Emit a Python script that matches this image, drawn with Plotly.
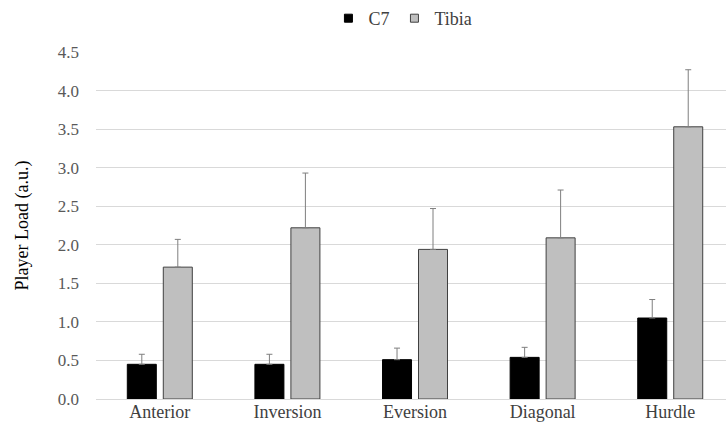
import plotly.graph_objects as go

categories = ["Anterior", "Inversion", "Eversion", "Diagonal", "Hurdle"]
c7_mean = [0.45, 0.45, 0.51, 0.54, 1.05]
c7_sd = [0.13, 0.13, 0.15, 0.13, 0.24]
tibia_mean = [1.71, 2.22, 1.94, 2.09, 3.53]
tibia_sd = [0.36, 0.71, 0.53, 0.62, 0.74]
y_ticks = [0.0, 0.5, 1.0, 1.5, 2.0, 2.5, 3.0, 3.5, 4.0, 4.5]

FONT = "Liberation Serif"
C7_COLOR = "#000000"
TIBIA_COLOR = "#bfbfbf"

fig = go.Figure()
fig.add_trace(go.Bar(
    name="C7", x=categories, y=c7_mean, showlegend=False, legendgroup="c7",
    marker=dict(color=C7_COLOR, line=dict(color="#000000", width=1)),
    error_y=dict(type="data", array=c7_sd, arrayminus=[0]*len(c7_sd), symmetric=False,
                 color="#7f7f7f", thickness=1, width=3),
))
fig.add_trace(go.Bar(
    name="Tibia", x=categories, y=tibia_mean, showlegend=False, legendgroup="tibia",
    marker=dict(color=TIBIA_COLOR, line=dict(color="#404040", width=1)),
    error_y=dict(type="data", array=tibia_sd, arrayminus=[0]*len(tibia_sd), symmetric=False,
                 color="#7f7f7f", thickness=1, width=3),
))
# legend entries with small square swatches
fig.add_trace(go.Scatter(name="C7", x=[None], y=[None], mode="markers", legendgroup="c7",
                         marker=dict(symbol="square", size=8, color=C7_COLOR,
                                     line=dict(color="#000000", width=1))))
fig.add_trace(go.Scatter(name="Tibia", x=[None], y=[None], mode="markers", legendgroup="tibia",
                         marker=dict(symbol="square", size=8, color=TIBIA_COLOR,
                                     line=dict(color="#404040", width=1))))

fig.update_layout(
    width=726, height=432,
    margin=dict(l=96, r=0, t=52, b=33),
    paper_bgcolor="white", plot_bgcolor="white",
    barmode="group", bargap=0.436, bargroupgap=0.194,
    font=dict(family=FONT, size=16, color="#595959"),
    legend=dict(orientation="h", x=0.555, xref="container", xanchor="center",
                y=1.0, yanchor="top", yref="container",
                font=dict(family=FONT, size=18, color="#404040"),
                itemwidth=30, traceorder="normal", tracegroupgap=0),
    showlegend=True,
)
fig.update_xaxes(showgrid=False, showline=False, ticks="", range=[-0.5, 4.437],
                 tickfont=dict(family=FONT, size=18, color="#404040"))
fig.update_yaxes(range=[0, 4.5], tickvals=y_ticks, ticktext=[f"{v:.1f}" for v in y_ticks],
                 showgrid=True, gridcolor="#d9d9d9", gridwidth=1, zeroline=True,
                 zerolinecolor="#d9d9d9", zerolinewidth=1, showline=False, ticks="",
                 ticklabelstandoff=16,
                 tickfont=dict(family=FONT, size=17, color="#595959"),
                 title=dict(text="Player Load (a.u.)", standoff=24,
                            font=dict(family=FONT, size=18, color="#000000")))

fig.write_html("out.html", config={"displayModeBar": False},
               post_script="document.body.style.margin='0';document.body.style.padding='0';")
